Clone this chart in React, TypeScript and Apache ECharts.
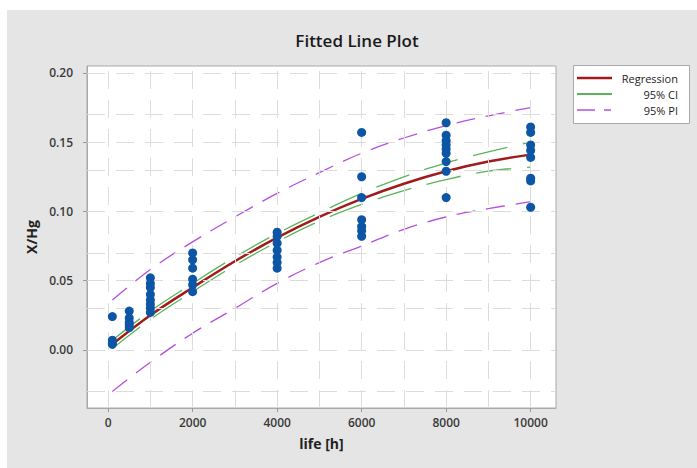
import React, { useEffect, useRef } from "react";
import * as echarts from "echarts";

// ---- data ----
const xTickLabels = [0, 2000, 4000, 6000, 8000, 10000];
const yTickLabels = [0, 0.05, 0.1, 0.15, 0.2];
const xGridValues = [0, 1000, 2000, 3000, 4000, 5000, 6000, 7000, 8000, 9000, 10000];
const yGridValues = [-0.025, 0, 0.025, 0.05, 0.075, 0.1, 0.125, 0.15, 0.175, 0.2];

const obsX = [100, 500, 1000, 2000, 4000, 6000, 8000, 10000];
const obs100 = [0.024, 0.007, 0.005, 0.004];
const obs500 = [0.028, 0.023, 0.02, 0.018, 0.016];
const obs1000 = [0.052, 0.048, 0.045, 0.04, 0.036, 0.033, 0.03, 0.027];
const obs2000 = [0.07, 0.065, 0.059, 0.051, 0.047, 0.042];
const obs4000 = [0.085, 0.082, 0.077, 0.072, 0.067, 0.063, 0.059];
const obs6000 = [0.157, 0.125, 0.11, 0.094, 0.089, 0.086, 0.082];
const obs8000 = [0.164, 0.155, 0.151, 0.148, 0.145, 0.142, 0.136, 0.129, 0.11];
const obs10000 = [0.161, 0.157, 0.148, 0.144, 0.139, 0.124, 0.122, 0.103];
const obsGroups = [obs100, obs500, obs1000, obs2000, obs4000, obs6000, obs8000, obs10000];

const fitX = [100, 1000, 2000, 3000, 4000, 5000, 6000, 7000, 8000, 9000, 10000];
const regression = [0.004, 0.025, 0.045, 0.064, 0.081, 0.096, 0.109, 0.12, 0.129, 0.136, 0.141];
const ciUpper = [0.007, 0.028, 0.048, 0.067, 0.084, 0.099, 0.113, 0.125, 0.135, 0.143, 0.15];
const ciLower = [0.001, 0.022, 0.042, 0.061, 0.078, 0.093, 0.105, 0.115, 0.123, 0.129, 0.132];
const piUpper = [0.036, 0.058, 0.078, 0.096, 0.113, 0.128, 0.142, 0.153, 0.162, 0.169, 0.175];
const piLower = [-0.03, -0.009, 0.012, 0.03, 0.048, 0.063, 0.075, 0.087, 0.096, 0.102, 0.107];

const legendLabels = ["Regression", "95% CI", "95% PI"];

const RED = "#a01b1b";
const GREEN = "#5cb35c";
const PURPLE = "#b54fe0";
const BLUE = "#0d56a6";
const FONT = "'Open Sans', 'Noto Sans', sans-serif";

export default function App() {
  const ref = useRef<HTMLDivElement>(null);

  useEffect(() => {
    if (!ref.current) return;
    const chart = echarts.init(ref.current, undefined, { renderer: "svg" });

    const scatterData: number[][] = [];
    obsGroups.forEach((g, i) => g.forEach((v) => scatterData.push([obsX[i], v])));
    const pair = (ys: number[]) => fitX.map((x, i) => [x, ys[i]]);

    const gridLineStyle = { color: "#dcdcdc", width: 1, type: [18, 11] as any };

    const option: any = {
      animation: false,
      backgroundColor: "#ffffff",
      grid: {
        left: 87,
        top: 66,
        right: 141,
        bottom: 60,
        show: true,
        backgroundColor: "#ffffff",
        borderColor: "#a9a9a9",
        borderWidth: 1,
      },
      xAxis: {
        type: "value",
        min: -500,
        max: 10600,
        name: "life [h]",
        nameLocation: "middle",
        nameGap: 28,
        nameTextStyle: { fontFamily: FONT, fontSize: 14, fontWeight: "bold", color: "#222" },
        axisLine: { show: true, onZero: false, lineStyle: { color: "#a9a9a9" } },
        axisTick: { show: true, length: 4, lineStyle: { color: "#999" }, customValues: xTickLabels },
        axisLabel: {
          customValues: xTickLabels,
          margin: 8,
          fontFamily: FONT,
          fontSize: 12,
          fontWeight: 600,
          color: "#3a3a3a",
          formatter: (v: number) => String(v),
        },
        splitLine: { show: false },
      },
      yAxis: {
        type: "value",
        min: -0.042,
        max: 0.205,
        name: "X/Hg",
        nameLocation: "middle",
        nameGap: 43,
        nameTextStyle: { fontFamily: FONT, fontSize: 14, fontWeight: "bold", color: "#222" },
        axisLine: { show: true, onZero: false, lineStyle: { color: "#a9a9a9" } },
        axisTick: { show: true, length: 4, lineStyle: { color: "#999" }, customValues: yTickLabels },
        axisLabel: {
          customValues: yTickLabels,
          margin: 14,
          fontFamily: FONT,
          fontSize: 12,
          fontWeight: 600,
          color: "#3a3a3a",
          formatter: (v: number) => v.toFixed(2),
        },
        splitLine: { show: false },
      },
      series: [
        {
          type: "line",
          data: [],
          silent: true,
          z: 1,
          markLine: {
            silent: true,
            symbol: "none",
            label: { show: false },
            lineStyle: gridLineStyle,
            data: [
              ...xGridValues.map((v) => ({ xAxis: v })),
              ...yGridValues.map((v) => ({ yAxis: v })),
            ],
          },
        },
        {
          type: "line",
          data: pair(piUpper),
          smooth: 0.4,
          symbol: "none",
          lineStyle: { color: PURPLE, width: 1.3, type: [19, 11] },
          z: 3,
        },
        {
          type: "line",
          data: pair(piLower),
          smooth: 0.4,
          symbol: "none",
          lineStyle: { color: PURPLE, width: 1.3, type: [19, 11] },
          z: 3,
        },
        {
          type: "line",
          data: pair(ciUpper),
          smooth: 0.4,
          symbol: "none",
          lineStyle: { color: GREEN, width: 1.3, type: [35, 16] },
          z: 3,
        },
        {
          type: "line",
          data: pair(ciLower),
          smooth: 0.4,
          symbol: "none",
          lineStyle: { color: GREEN, width: 1.3, type: [35, 16] },
          z: 3,
        },
        {
          type: "line",
          data: pair(regression),
          smooth: 0.4,
          symbol: "none",
          lineStyle: { color: RED, width: 2.5 },
          z: 4,
        },
        {
          type: "scatter",
          data: scatterData,
          symbol: "circle",
          symbolSize: 9,
          itemStyle: { color: BLUE, opacity: 1 },
          z: 5,
        },
      ],
      graphic: [
        {
          type: "rect",
          z: -10,
          silent: true,
          shape: { x: 7, y: 10, width: 690, height: 458 },
          style: { fill: "#e5e5e5" },
        },
        {
          type: "text",
          x: 357,
          y: 40,
          style: {
            text: "Fitted Line Plot",
            fontFamily: FONT,
            fontSize: 17,
            fontWeight: 600,
            fill: "#1a1a1a",
            textAlign: "center",
            textVerticalAlign: "middle",
          },
        },
        {
          type: "group",
          children: [
            {
              type: "rect",
              shape: { x: 573.5, y: 65.5, width: 116, height: 58 },
              style: { fill: "#ffffff", stroke: "#a9a9a9", lineWidth: 1 },
            },
            {
              type: "line",
              shape: { x1: 577, y1: 78, x2: 612, y2: 78 },
              style: { stroke: RED, lineWidth: 2.5 },
            },
            {
              type: "line",
              shape: { x1: 577, y1: 94, x2: 612, y2: 94 },
              style: { stroke: GREEN, lineWidth: 1.8 },
            },
            {
              type: "line",
              shape: { x1: 577, y1: 110, x2: 595, y2: 110 },
              style: { stroke: PURPLE, lineWidth: 1.5 },
            },
            {
              type: "line",
              shape: { x1: 604, y1: 110, x2: 611, y2: 110 },
              style: { stroke: PURPLE, lineWidth: 1.5 },
            },
            ...legendLabels.map((t, i) => ({
              type: "text",
              x: 678,
              y: 78 + i * 16,
              style: {
                text: t,
                fontFamily: FONT,
                fontSize: 11,
                fill: "#222",
                textAlign: "right",
                textVerticalAlign: "middle",
              },
            })),
          ],
        },
      ],
    };

    chart.setOption(option);
    return () => chart.dispose();
  }, []);

  return (
    <div
      ref={ref}
      style={{ position: "fixed", left: 0, top: 0, width: 697, height: 468 }}
    />
  );
}
